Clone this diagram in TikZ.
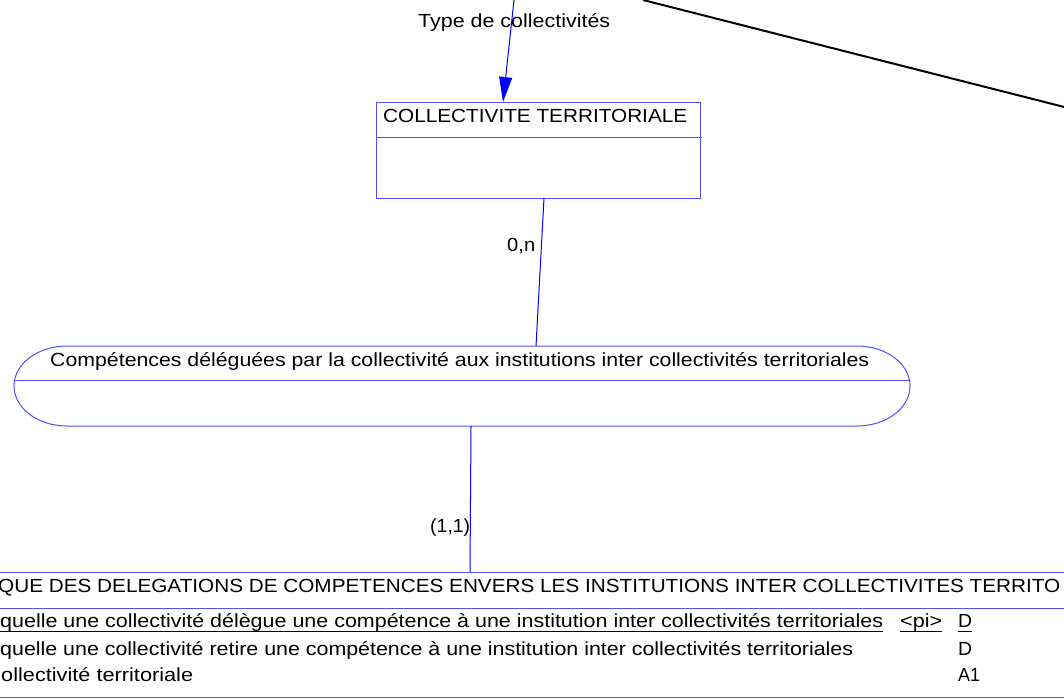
\documentclass[tikz,border=0pt]{standalone}
\usepackage{fontspec}
\setmainfont{Liberation Sans}
\usepackage{graphicx}
\usetikzlibrary{arrows.meta}
\definecolor{entblue}{RGB}{80,80,255}
\definecolor{conblue}{RGB}{0,0,255}
\newcommand\fitw[2]{\resizebox{#1pt}{\height}{#2}}
\begin{document}
\begin{tikzpicture}[x=1pt,y=-1pt,
  conn/.style={draw=conblue, line width=1pt},
  ent/.style={draw=entblue, line width=1pt},
  txt/.style={anchor=base west, inner sep=0pt, font=\fontsize{19}{19}\selectfont, text=black},
  rowtxt/.style={txt, font=\fontsize{19}{19}\selectfont},
  uline/.style={draw=black, line width=1pt}]
\useasboundingbox (0,0) rectangle (1064,698);
\clip (0,0) rectangle (1064,698);
\fill[white] (0,0) rectangle (1064,698);

% black line from top right
\coordinate (l1) at (643,0);
\coordinate (l2) at (1080,111);
\draw[line width=2pt] (l1) -- (l2);

% entity COLLECTIVITE TERRITORIALE
\node[ent, minimum width=324pt, minimum height=96pt, inner sep=0pt, anchor=north west] (ct) at (376,102) {};
\draw[ent] (376,137) -- (702,137);
\node[txt] (cttitle) at (383,122) {\fitw{304}{COLLECTIVITE TERRITORIALE}};

% type label and arrow
\node[txt] (typ) at (418,28) {\fitw{192}{Type de collectivités}};
\coordinate (src) at (514,0);
\coordinate (ctin) at (503,102);
\draw[conn, -{Triangle[length=25pt,width=13pt]}] (src) -- (ctin);

% association
\node[minimum width=896pt, minimum height=80pt, inner sep=0pt] (asso) at (462,386) {};
\draw[ent] (67,346) -- (857,346) arc[start angle=-90, end angle=90, x radius=53, y radius=40]
  -- (67,426) arc[start angle=90, end angle=270, x radius=53, y radius=40] -- cycle;
\draw[ent] (14.6,380) -- (909.4,380);
\node[txt] (assotitle) at (50,366) {\fitw{819}{Compétences déléguées par la collectivité aux institutions inter collectivités territoriales}};

% connector CT - association
\coordinate (ctout) at (544,198);
\coordinate (assoin) at (536,346);
\draw[conn] (ctout) -- (assoin);
\node[txt] (card1) at (507,251) {\fitw{28}{0,n}};

% bottom entity
\node[ent, minimum width=1090pt, minimum height=125pt, inner sep=0pt, anchor=north west] (hist) at (-13,572) {};
\draw[ent] (-13,608) -- (1077,608);
\node[txt] (histtitle) at (-2,592) {\fitw{1062}{QUE DES DELEGATIONS DE COMPETENCES ENVERS LES INSTITUTIONS INTER COLLECTIVITES TERRITO}};

% connector association - bottom entity
\coordinate (assoout) at (471,426);
\coordinate (histin) at (470,572);
\draw[conn] (assoout) -- (histin);
\node[txt] (card2) at (430,532) {\fitw{40}{(1,1)}};

% attribute rows
\node[rowtxt] (r1) at (0,627) {\fitw{883}{quelle une collectivité délègue une compétence à une institution inter collectivités territoriales}};
\node[rowtxt] (r1pi) at (900,627) {\fitw{42}{<pi>}};
\node[rowtxt] (r1t) at (958,627) {\fitw{14}{D}};
\draw[uline] (0,631.5) -- (883,631.5);
\draw[uline] (900,631.5) -- (942,631.5);
\draw[uline] (958,631.5) -- (972,631.5);
\node[rowtxt] (r2) at (0,655) {\fitw{853}{quelle une collectivité retire une compétence à une institution inter collectivités territoriales}};
\node[rowtxt] (r2t) at (958,655) {\fitw{14}{D}};
\node[rowtxt] (r3) at (1,681) {\fitw{192}{ollectivité territoriale}};
\node[rowtxt] (r3t) at (958,681) {\fitw{22}{A1}};
\end{tikzpicture}
\end{document}
